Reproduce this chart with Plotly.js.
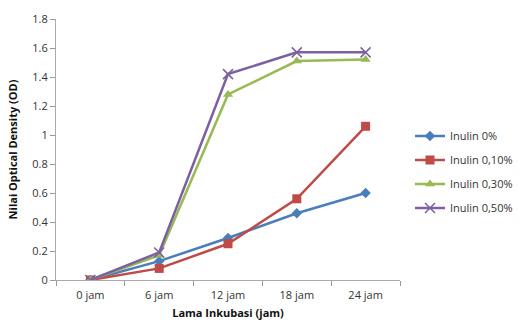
<!DOCTYPE html>
<html><head><meta charset="utf-8">
<script src="https://cdn.plot.ly/plotly-3.0.1.min.js"></script>
<style>body{margin:0;background:#fff}#c{width:518px;height:324px}</style>
</head><body><div id="c"></div>
<script>
const categories = ['0 jam','6 jam','12 jam','18 jam','24 jam'];
const seriesNames = ['Inulin 0%','Inulin 0,10%','Inulin 0,30%','Inulin 0,50%'];
const inulin0 = [0, 0.13, 0.29, 0.46, 0.60];
const inulin010 = [0, 0.08, 0.25, 0.56, 1.06];
const inulin030 = [0, 0.17, 1.28, 1.51, 1.52];
const inulin050 = [0, 0.19, 1.42, 1.57, 1.57];
const yTicks = [0,0.2,0.4,0.6,0.8,1,1.2,1.4,1.6,1.8];
const yTickText = ['0','0.2','0.4','0.6','0.8','1','1.2','1.4','1.6','1.8'];

const colors = ['#4A7EBB','#BE4B48','#98B954','#7D60A0'];
const symbols = ['diamond','square','triangle-up','x-thin'];
const sizes = [8,9,9,10];
const data = [inulin0, inulin010, inulin030, inulin050].map((v,i)=>({
  x: categories, y: v, name: seriesNames[i], type:'scatter', mode:'lines+markers',
  legendgroup:'g'+i,
  line:{color:colors[i], width:2.5},
  marker:{color:colors[i], symbol:symbols[i], size:sizes[i], line:{color:colors[i], width: i===3?1.5:0}}
}));
const font = "Open Sans, Liberation Sans, sans-serif";
const layout = {
  width:518, height:324,
  margin:{l:56, r:118, t:19, b:44},
  paper_bgcolor:'#fff', plot_bgcolor:'#fff',
  font:{family:font, size:11, color:'#333'},
  showlegend:true,
  legend:{xref:'container', yref:'container', x:410/518, y:1-172/324, xanchor:'left', yanchor:'middle',
    font:{size:11, color:'#333'}, tracegroupgap:5, itemwidth:30},
  xaxis:{type:'category', tickson:'boundaries', ticks:'outside', ticklen:5, tickcolor:'#999',
    showline:true, linecolor:'#aaa', linewidth:1, showgrid:false, zeroline:false,
    range:[-0.5,4.5], tickfont:{size:11, color:'#333'}, ticklabelstandoff:5,
    title:{text:'<b>Lama Inkubasi (jam)</b>', font:{size:11, color:'#111'}, standoff:8}},
  yaxis:{range:[0,1.8], tickvals:yTicks, ticktext:yTickText, ticks:'outside', ticklen:5, tickcolor:'#999',
    showline:true, linecolor:'#aaa', linewidth:1, showgrid:false, zeroline:false,
    tickfont:{size:11, color:'#333'},
    title:{text:'<b>Nilai Optical Density (OD)</b>', font:{size:11, color:'#111'}, standoff:12}}
};
Plotly.newPlot('c', data, layout, {displayModeBar:false, staticPlot:true});
</script></body></html>
